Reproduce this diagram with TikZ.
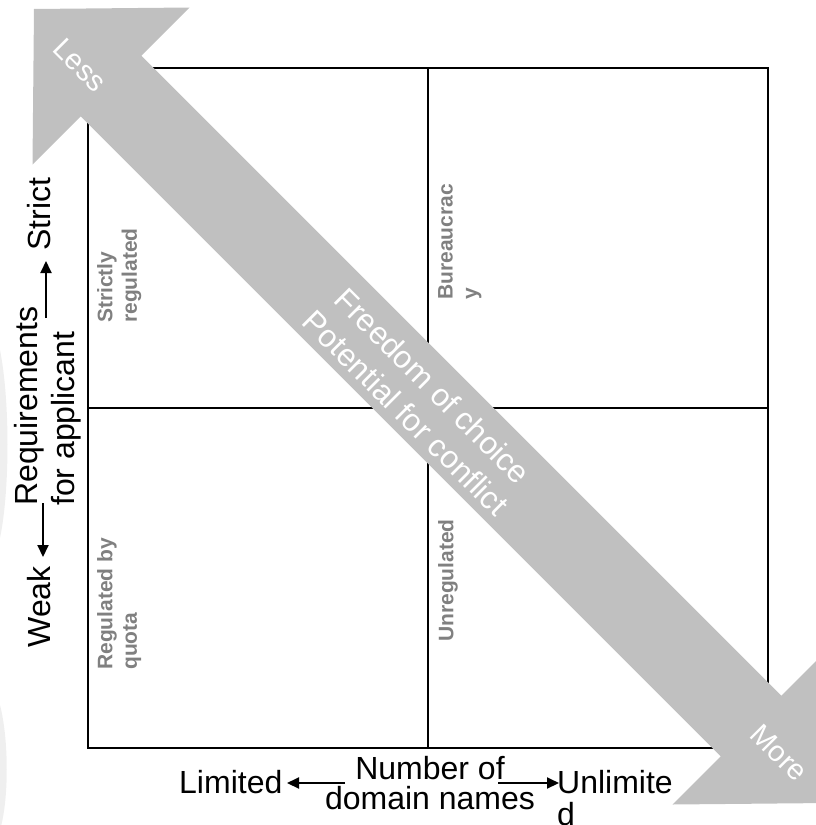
\documentclass[tikz,border=0pt]{standalone}
\usepackage{fontspec}
\setmainfont{Liberation Sans}
\usetikzlibrary{arrows.meta}
\definecolor{arrowgray}{HTML}{C0C0C0}
\definecolor{labelgray}{HTML}{808080}
\definecolor{ghost}{HTML}{EFEFEF}
\begin{document}
\begin{tikzpicture}[x=1pt,y=-1pt,
  axislabel/.style={inner sep=0pt, text=black, font=\fontsize{32}{37}\selectfont},
  quadlabel/.style={inner sep=0pt, rotate=90, anchor=north west, align=left, text=labelgray, font=\fontsize{21}{24.5}\selectfont\bfseries},
  arrowtext/.style={inner sep=0pt, text=white, rotate=-45, align=center},
  axisarrow/.style={draw=black, line width=2pt, -{Triangle[length=12pt,width=11pt]}},
  gridline/.style={draw=black, line width=2pt}]
\useasboundingbox (0,0) rectangle (816,825);
\clip (0,0) rectangle (816,825);
% faint marks at the left edge
\fill[ghost] (0,350) .. controls (10,400) and (10,490) .. (0,538) -- cycle;
\fill[ghost] (0,705) .. controls (9,740) and (9,800) .. (0,830) -- cycle;
% grid
\draw[gridline] (88,68) rectangle (768,748);
\draw[gridline] (428,68) -- (428,748);
\draw[gridline] (88,408) -- (768,408);
% quadrant labels
\node[quadlabel] (q1) at (97,323) {Strictly\\regulated};
\node[quadlabel] (q2) at (438,300) {Bureaucrac\\y};
\node[quadlabel] (q3) at (97,670) {Regulated by\\quota};
\node[quadlabel] (q4) at (438,642) {Unregulated};
% big double arrow
\fill[arrowgray] (34,9) -- (189.5,7.5) -- (141.3,55.7) -- (781.3,695.7) -- (829.5,647.5)
  -- (828,803) -- (672.5,804.5) -- (720.7,756.3) -- (80.7,116.3) -- (32.5,164.5) -- cycle;
\node[arrowtext, font=\fontsize{29}{33}\selectfont] (less) at (80,65) {Less};
\node[arrowtext, font=\fontsize{29}{33}\selectfont] (more) at (779,753) {More};
\node[arrowtext, font=\fontsize{31.5}{38}\selectfont] (freedom) at (419.5,399.5) {Freedom of choice\\Potential for conflict};
% vertical axis labels
\node[axislabel, rotate=90, align=left, anchor=north west] (req) at (14,506) {Requirements\\for applicant};
\node[axislabel, rotate=90] (strict) at (39,214) {Strict};
\node[axislabel, rotate=90] (weak) at (39,607) {Weak};
\coordinate (sA) at (46,318);
\coordinate (sB) at (46,261);
\coordinate (wA) at (43,503);
\coordinate (wB) at (43,557);
\draw[axisarrow] (sA) -- (sB);
\draw[axisarrow] (wA) -- (wB);
% horizontal axis labels
\node[axislabel, anchor=base west] (limited) at (179,793) {Limited};
\node[axislabel, align=center, font=\fontsize{32}{30}\selectfont] (number) at (430,783) {Number of\\domain names};
\node[axislabel, anchor=north west, align=left, font=\fontsize{32}{32}\selectfont] (unlim) at (557,770) {Unlimite\\d};
\coordinate (lA) at (345,783);
\coordinate (lB) at (287,783);
\coordinate (uA) at (498,783);
\coordinate (uB) at (559,783);
\draw[axisarrow] (lA) -- (lB);
\draw[axisarrow] (uA) -- (uB);
\end{tikzpicture}
\end{document}
